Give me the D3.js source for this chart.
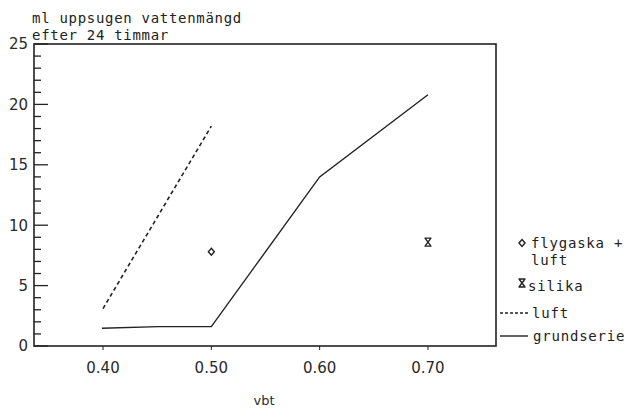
<!DOCTYPE html>
<html>
<head>
<meta charset="utf-8">
<script src="https://cdn.jsdelivr.net/npm/d3@7"></script>
<style>
  html, body { margin: 0; padding: 0; background: #ffffff; }
  svg { display: block; }
  .mono { font-family: "DejaVu Sans Mono", "Liberation Mono", monospace; fill: #222; }
  .tick-label { font-family: "DejaVu Sans", sans-serif; fill: #2a2a2a; }
</style>
</head>
<body>
<svg id="chart" width="626" height="410"></svg>
<script>
// ---- data ----
const xTicks = [0.40, 0.50, 0.60, 0.70];
const xTickLabels = ["0.40", "0.50", "0.60", "0.70"];
const yMajorTicks = [0, 5, 10, 15, 20, 25];
const yMinorTicks = d3.range(0, 26, 1);

const grundserieX = [0.399, 0.451, 0.50, 0.60, 0.70];
const grundserieY = [1.47, 1.6, 1.6, 14.0, 20.8];

const luftX = [0.40, 0.50];
const luftY = [3.1, 18.2];

const flygaskaX = [0.50];
const flygaskaY = [7.8];

const silikaX = [0.70];
const silikaY = [8.6];

const yTitleLines = ["ml uppsugen vattenmängd", "efter 24 timmar"];
const xTitle = "vbt";
const legendLabels = ["flygaska +", "luft", "silika", "luft", "grundserie"];

// ---- layout ----
const svg = d3.select("#chart");
const mLeft = 34, mRight = 496, mTop = 44, mBottom = 346;
const ink = "#222";

const x = d3.scaleLinear().domain([0.3363, 0.7628]).range([mLeft, mRight]);
const y = d3.scaleLinear().domain([0, 25]).range([mBottom, mTop]);

// frame
svg.append("rect")
  .attr("x", mLeft).attr("y", mTop)
  .attr("width", mRight - mLeft).attr("height", mBottom - mTop)
  .attr("fill", "none").attr("stroke", ink).attr("stroke-width", 1.6);

// y minor/major ticks (inside)
svg.append("g").selectAll("line").data(yMinorTicks).join("line")
  .attr("x1", mLeft).attr("x2", d => mLeft + (d % 5 === 0 ? 14 : 7))
  .attr("y1", d => y(d)).attr("y2", d => y(d))
  .attr("stroke", ink).attr("stroke-width", 1.3);

// y tick labels
svg.append("g").selectAll("text").data(yMajorTicks).join("text")
  .attr("class", "tick-label")
  .attr("x", 28).attr("y", d => y(d))
  .attr("dy", "0.36em")
  .attr("text-anchor", "end")
  .attr("font-size", 15)
  .text(d => d);

// x ticks (small, downward)
svg.append("g").selectAll("line").data(xTicks).join("line")
  .attr("x1", d => x(d)).attr("x2", d => x(d))
  .attr("y1", mBottom).attr("y2", mBottom + 4)
  .attr("stroke", ink).attr("stroke-width", 1);

svg.append("g").selectAll("text").data(xTicks).join("text")
  .attr("class", "tick-label")
  .attr("x", d => x(d)).attr("y", 373)
  .attr("text-anchor", "middle")
  .attr("font-size", 15)
  .text((d, i) => xTickLabels[i]);

// axis titles
svg.append("g").selectAll("text").data(yTitleLines).join("text")
  .attr("class", "mono")
  .attr("x", 32).attr("y", (d, i) => 23 + i * 17)
  .attr("font-size", 14)
  .attr("letter-spacing", 0.7)
  .text(d => d);

svg.append("text")
  .attr("class", "tick-label")
  .attr("x", 264).attr("y", 405)
  .attr("text-anchor", "middle")
  .attr("font-size", 13)
  .text(xTitle);

// lines
const line = d3.line().x(d => x(d[0])).y(d => y(d[1]));

svg.append("path")
  .datum(grundserieX.map((v, i) => [v, grundserieY[i]]))
  .attr("d", line)
  .attr("fill", "none").attr("stroke", ink).attr("stroke-width", 1.4);

svg.append("path")
  .datum(luftX.map((v, i) => [v, luftY[i]]))
  .attr("d", line)
  .attr("fill", "none").attr("stroke", ink).attr("stroke-width", 1.6)
  .attr("stroke-dasharray", "4,3");

// markers
function diamond(g, cx, cy) {
  g.append("path")
    .attr("d", `M${cx},${cy - 3.5}L${cx + 3},${cy}L${cx},${cy + 3.5}L${cx - 3},${cy}Z`)
    .attr("fill", "none").attr("stroke", ink).attr("stroke-width", 1.4);
}
function hourglass(g, cx, cy) {
  const w = 3.5, h = 4;
  g.append("path")
    .attr("d", `M${cx - w},${cy - h}L${cx + w},${cy - h}M${cx - w},${cy + h}L${cx + w},${cy + h}` +
               `M${cx - w + 0.5},${cy - h}L${cx + w - 0.5},${cy + h}M${cx + w - 0.5},${cy - h}L${cx - w + 0.5},${cy + h}`)
    .attr("fill", "none").attr("stroke", ink).attr("stroke-width", 1.4);
}

const marks = svg.append("g");
flygaskaX.forEach((v, i) => diamond(marks, x(v), y(flygaskaY[i])));
silikaX.forEach((v, i) => hourglass(marks, x(v), y(silikaY[i])));

// legend
const lg = svg.append("g");
diamond(lg, 522, 243);
lg.append("text").attr("class", "mono").attr("x", 531).attr("y", 248)
  .attr("font-size", 14).attr("letter-spacing", 0.8).text(legendLabels[0]);
lg.append("text").attr("class", "mono").attr("x", 531).attr("y", 265)
  .attr("font-size", 14).attr("letter-spacing", 0.8).text(legendLabels[1]);
hourglass(lg, 522, 283);
lg.append("text").attr("class", "mono").attr("x", 528).attr("y", 291)
  .attr("font-size", 14).attr("letter-spacing", 0.8).text(legendLabels[2]);
lg.append("line").attr("x1", 500).attr("x2", 529).attr("y1", 313).attr("y2", 313)
  .attr("stroke", ink).attr("stroke-width", 1.4).attr("stroke-dasharray", "3,2");
lg.append("text").attr("class", "mono").attr("x", 532).attr("y", 318)
  .attr("font-size", 14).attr("letter-spacing", 0.8).text(legendLabels[3]);
lg.append("line").attr("x1", 500).attr("x2", 528).attr("y1", 336).attr("y2", 336)
  .attr("stroke", ink).attr("stroke-width", 1.4);
lg.append("text").attr("class", "mono").attr("x", 533).attr("y", 341)
  .attr("font-size", 14).attr("letter-spacing", 0.8).text(legendLabels[4]);
</script>
</body>
</html>
